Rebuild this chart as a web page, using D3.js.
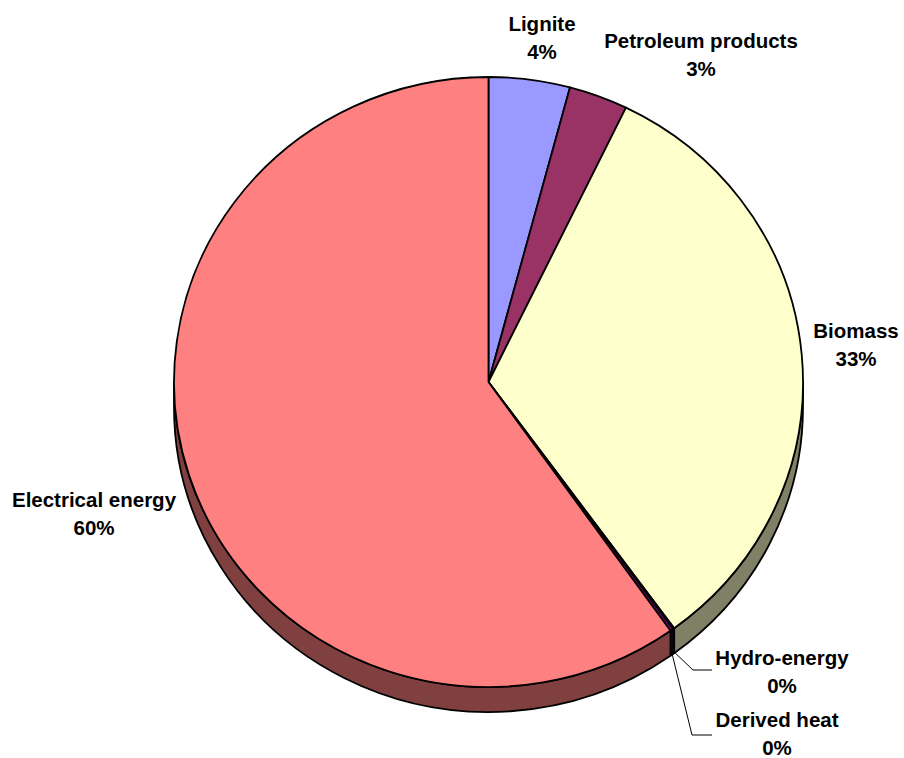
<!DOCTYPE html>
<html>
<head>
<meta charset="utf-8">
<script src="https://cdn.jsdelivr.net/npm/d3@7"></script>
<style>
  html, body { margin: 0; padding: 0; background: #ffffff; }
  svg { display: block; }
  text { font-family: "Liberation Sans", Arial, sans-serif; font-weight: bold; fill: #000; }
</style>
</head>
<body>
<svg id="chart" width="904" height="758"></svg>
<script>
// Final energy consumption by source (share, %)
const categories = ["Lignite", "Petroleum products", "Biomass", "Hydro-energy", "Derived heat", "Electrical energy"];
const values = [4.17, 3.03, 32.75, 0.06, 0.17, 59.82];
const colors = ["#9999FF", "#993366", "#FFFFCC", "#CCFFFF", "#660066", "#FF8080"];

// Layout of the tilted pie and its labels
const W = 904, H = 758;
const cx = 488.5, cy = 382, rx = 314.5, ry = 305, depth = 25;
const fontSize = 20.5, lineGap = 27.5;
const labelPos = [
  { x: 542, y: 31 },
  { x: 701, y: 48 },
  { x: 856, y: 338 },
  { x: 782, y: 665, elbow: [693, 670], end: [712, 670] },
  { x: 777, y: 727, elbow: [692, 735], end: [712, 735] },
  { x: 94, y: 507 }
];

const svg = d3.select("#chart");
const total = d3.sum(values);
const pie = d3.pie().sort(null).startAngle(0).endAngle(2 * Math.PI);
const arcs = pie(values).map((d, i) => ({ ...d, name: categories[i], color: colors[i] }));

function pt(a, dy = 0) {
  return [cx + rx * Math.sin(a), cy - ry * Math.cos(a) + dy];
}

function topPath(d) {
  const p0 = pt(d.startAngle), p1 = pt(d.endAngle);
  const large = (d.endAngle - d.startAngle) > Math.PI ? 1 : 0;
  return `M${cx},${cy}L${p0[0]},${p0[1]}A${rx},${ry} 0 ${large} 1 ${p1[0]},${p1[1]}Z`;
}

function sidePath(d) {
  const s0 = Math.max(d.startAngle, Math.PI / 2);
  const s1 = Math.min(d.endAngle, 3 * Math.PI / 2);
  if (s1 <= s0) return null;
  const a = pt(s0), b = pt(s1), c = pt(s1, depth), e = pt(s0, depth);
  return `M${a[0]},${a[1]}A${rx},${ry} 0 0 1 ${b[0]},${b[1]}L${c[0]},${c[1]}A${rx},${ry} 0 0 0 ${e[0]},${e[1]}Z`;
}

const shade = c => { const k = d3.rgb(c); return d3.rgb(k.r * 0.5, k.g * 0.5, k.b * 0.5).toString(); };

// Side walls (front half only)
svg.append("g").selectAll("path")
  .data(arcs.filter(d => sidePath(d)))
  .join("path")
  .attr("d", sidePath)
  .attr("fill", d => shade(d.color))
  .attr("stroke", "#000")
  .attr("stroke-width", 1.8)
  .attr("stroke-linejoin", "round");

// Top faces
svg.append("g").selectAll("path")
  .data(arcs)
  .join("path")
  .attr("d", topPath)
  .attr("fill", d => d.color)
  .attr("stroke", "#000")
  .attr("stroke-width", 1.8)
  .attr("stroke-linejoin", "round");

// Leader lines for the tiny slices
const leaders = svg.append("g").attr("fill", "none").attr("stroke", "#000").attr("stroke-width", 1);
arcs.forEach((d, i) => {
  const L = labelPos[i];
  if (!L.elbow) return;
  const mid = (d.startAngle + d.endAngle) / 2;
  const s = pt(mid, depth - 2);
  leaders.append("polyline")
    .attr("points", [s, L.elbow, L.end].map(p => p.join(",")).join(" "));
});

// Category labels with percentages
const labels = svg.append("g").attr("font-size", fontSize).attr("text-anchor", "middle");
arcs.forEach((d, i) => {
  const L = labelPos[i];
  const t = labels.append("text").attr("x", L.x).attr("y", L.y);
  t.append("tspan").attr("x", L.x).attr("y", L.y).text(d.name);
  t.append("tspan").attr("x", L.x).attr("y", L.y + lineGap)
    .text(Math.round(d.value / total * 100) + "%");
});
</script>
</body>
</html>
